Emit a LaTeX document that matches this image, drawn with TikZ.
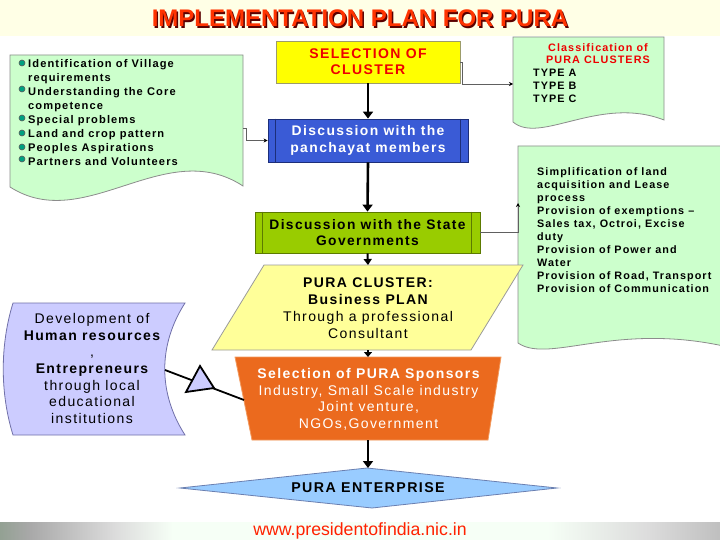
\documentclass[tikz,border=0pt]{standalone}
\usepackage{fontspec}
\setmainfont{Liberation Sans}[LetterSpace=10]
\newfontfamily\plainsans{Liberation Sans}
\usetikzlibrary{arrows.meta}
\definecolor{titlered}{HTML}{FF3300}
\definecolor{shadowred}{HTML}{5A0000}
\definecolor{bandyellow}{HTML}{FFFF00}
\definecolor{bandpale}{HTML}{FFFFE6}
\definecolor{footgreen}{HTML}{006600}
\definecolor{footmix}{HTML}{5E8F5E}
\definecolor{footgrey}{HTML}{A8A8A8}
\definecolor{footlight}{HTML}{DCDCDC}
\definecolor{footwhite}{HTML}{F6FFF6}
\definecolor{docgreen}{HTML}{CCFFCC}
\definecolor{docborder}{HTML}{8C8C8C}
\definecolor{selyellow}{HTML}{FFFF00}
\definecolor{selborder}{HTML}{9C9C6A}
\definecolor{selred}{HTML}{EE0000}
\definecolor{panblue}{HTML}{3A5BD6}
\definecolor{panborder}{HTML}{1C2E7A}
\definecolor{stategreen}{HTML}{99CC00}
\definecolor{stateborder}{HTML}{5C7A00}
\definecolor{plyellow}{HTML}{FFFF99}
\definecolor{plborder}{HTML}{9A9A9A}
\definecolor{sporange}{HTML}{EB6A1E}
\definecolor{spborder}{HTML}{F29A5E}
\definecolor{entblue}{HTML}{99CCFF}
\definecolor{entborder}{HTML}{6A7FB0}
\definecolor{hrpurple}{HTML}{CCCCFF}
\definecolor{hrborder}{HTML}{7070A8}
\definecolor{bulletc}{HTML}{00A080}
\definecolor{webred}{HTML}{FF2200}
\definecolor{connc}{HTML}{606060}
\pgfdeclarehorizontalshading{titleband}{100bp}{color(0bp)=(bandyellow); color(6bp)=(bandyellow); color(22bp)=(bandpale); color(80bp)=(bandpale); color(95bp)=(bandyellow); color(100bp)=(bandyellow)}
\pgfdeclarehorizontalshading{footband}{100bp}{color(0bp)=(footgreen); color(7bp)=(footgreen); color(20bp)=(footmix); color(27bp)=(footgrey); color(33bp)=(footlight); color(37bp)=(footwhite); color(63bp)=(footwhite); color(70bp)=(footlight); color(79bp)=(footgrey); color(88bp)=(footmix); color(94bp)=(footgreen); color(100bp)=(footgreen)}
\begin{document}
\begin{tikzpicture}[x=1pt,y=-1pt,
  titletext/.style={font=\plainsans\bfseries\fontsize{24}{24}\selectfont, inner sep=0},
  bodytext/.style={font=\fontsize{14}{16.7}\selectfont, align=center, inner sep=0},
  doctext/.style={font=\bfseries\fontsize{11.1}{14}\selectfont, align=left, inner sep=0},
  smalldoctext/.style={font=\bfseries\fontsize{10.8}{13}\selectfont, align=left, inner sep=0},
  docshape/.style={fill=docgreen, draw=docborder, line width=0.8pt},
  thickarrow/.style={line width=2.6pt, -{Triangle[length=7pt,width=10pt]}},
  thinconn/.style={draw=connc, line width=0.8pt, -{Stealth[length=4pt,width=4pt,color=black]}},
]
\useasboundingbox (0,0) rectangle (720,540);
\clip (0,0) rectangle (720,540);
\fill[white] (0,0) rectangle (720,540);
% bands
\shade[shading=titleband] (0,0) rectangle (720,36);
\shade[shading=footband] (0,522) rectangle (720,540);
\node[titletext, text=shadowred, anchor=base] (titleshadow) at (361.4,28.4) {IMPLEMENTATION PLAN FOR PURA};
\node[titletext, text=titlered, anchor=base] (title) at (360,27) {IMPLEMENTATION PLAN FOR PURA};
\node[font=\plainsans\fontsize{17.7}{18}\selectfont, text=webred, anchor=base, inner sep=0] (web) at (360,535.8) {www.presidentofindia.nic.in};

% left document
\path[docshape] (10,55) -- (243,55) -- (243,186) .. controls (165,135) and (85,235) .. (10,187) -- cycle;
\coordinate (ldE) at (243,128);
\node[doctext, anchor=north west] (ldtext) at (28,59) {Identification of Village\\requirements\\Understanding the Core\\competence\\Special problems\\Land and crop pattern\\Peoples Aspirations\\Partners and Volunteers};
\foreach \yy in {63,89,118,133,147,159}
  \filldraw[fill=bulletc, draw=black!65, line width=0.6pt] (22,\yy) circle[radius=3];

% classification document
\path[docshape] (513,37) -- (664,37) -- (664,120) .. controls (600,95) and (540,145) .. (513,122) -- cycle;
\coordinate (clsW) at (513,84);
\node[smalldoctext, text=selred, align=center, font=\bfseries\fontsize{10.8}{12.5}\selectfont, anchor=north] (clstitle) at (598,43) {Classification of\\PURA CLUSTERS};
\node[smalldoctext, anchor=north west] (clstype) at (533,69) {TYPE A\\TYPE B\\TYPE C};

% right document
\path[docshape] (518,146) -- (740,146) -- (740,350) .. controls (620,318) and (550,365) .. (518,343) -- cycle;
\coordinate (rdW) at (518,203);
\node[smalldoctext, anchor=north west] (rdtext) at (537,167) {Simplification of land\\acquisition and Lease\\process\\Provision of exemptions --\\Sales tax, Octroi, Excise\\duty\\Provision of Power and\\Water\\Provision of Road, Transport\\Provision of Communication};

% selection of cluster
\node[draw=selborder, fill=selyellow, line width=0.8pt, minimum width=184pt, minimum height=42pt, inner sep=0,
      bodytext, font=\bfseries\fontsize{14}{16}\selectfont, text=selred] (sel) at (368,62) {SELECTION OF\\CLUSTER};

% panchayat
\node[draw=panborder, fill=panblue, line width=0.8pt, minimum width=200pt, minimum height=43pt, inner sep=0,
      bodytext, font=\bfseries\fontsize{13.9}{17}\selectfont, text=white] (pan) at (368,140.5) {Discussion with the\\panchayat members};
\draw[panborder, line width=0.8pt] ([xshift=8pt]pan.north west) -- ([xshift=8pt]pan.south west)
  ([xshift=-8pt]pan.north east) -- ([xshift=-8pt]pan.south east);

% state governments
\node[draw=stateborder, fill=stategreen, line width=0.8pt, minimum width=225pt, minimum height=41pt, inner sep=0,
      bodytext, font=\bfseries\fontsize{13.8}{16}\selectfont, text=black] (state) at (367.5,232.5) {Discussion with the State\\Governments};
\draw[stateborder, line width=0.8pt] ([xshift=8pt]state.north west) -- ([xshift=8pt]state.south west)
  ([xshift=-9pt]state.north east) -- ([xshift=-9pt]state.south east);

% business plan parallelogram
\path[fill=plyellow, draw=plborder, line width=0.8pt] (264,265) -- (523,265) -- (471,350) -- (212,350) -- cycle;
\coordinate (plTop) at (368,265);
\coordinate (plBot) at (368,350);
\node[bodytext, anchor=north] (pltext) at (368,278) {{\bfseries PURA CLUSTER:}\\{\bfseries Business PLAN}\\Through a professional\\Consultant};

% sponsors trapezoid
\path[fill=sporange, draw=spborder, line width=0.8pt] (235,357) -- (501,357) -- (488,440) -- (252,440) -- cycle;
\coordinate (orTop) at (368,357);
\coordinate (orBot) at (368,440);
\coordinate (orW) at (244,400);
\node[bodytext, text=white, anchor=north] (ortext) at (368.5,368) {{\bfseries Selection of PURA Sponsors}\\Industry, Small Scale industry\\Joint venture,\\NGOs,Government};

% enterprise diamond
\path[fill=entblue, draw=entborder, line width=0.8pt] (180,488) -- (367,468) -- (557,488) -- (372,508) -- cycle;
\coordinate (entTop) at (368,468);
\node[bodytext, font=\bfseries\fontsize{14.2}{16}\selectfont] (ent) at (368,488) {PURA ENTERPRISE};

% human resources shape
\path[fill=hrpurple, draw=hrborder, line width=0.8pt] (13,303) -- (185,303) .. controls (158,345) and (158,393) .. (185,435) -- (13,435) .. controls (0,393) and (0,345) .. (13,303) -- cycle;
\coordinate (hrE) at (165,370);
\node[bodytext, anchor=north] (hrtext) at (92,313) {Development of\\{\bfseries Human resources}\\,\\{\bfseries Entrepreneurs}\\through local\\educational\\institutions};

% connectors
\draw[thickarrow] (sel.south) -- (pan.north);
\draw[thickarrow] (pan.south) -- (state.north);
\draw[line width=2pt, -{Triangle[length=6pt,width=8pt]}] (state.south) -- (plTop);
\draw[line width=2pt, -{Triangle[length=5pt,width=8pt]}] (plBot) -- (orTop);
\draw[thickarrow] (orBot) -- (entTop);
\draw[thinconn] (sel.east) -- ++(2,0) |- (clsW);
\draw[thinconn] (ldE) -- ++(3,0) |- (pan.west);
\draw[thinconn] (state.east) -| (rdW);
\draw[line width=1.8pt] (hrE) -- (orW);
\filldraw[fill=hrpurple, draw=black, line width=1.8pt, line join=miter] (214,388) -- (200,366) -- (186,392) -- cycle;
\end{tikzpicture}
\end{document}
